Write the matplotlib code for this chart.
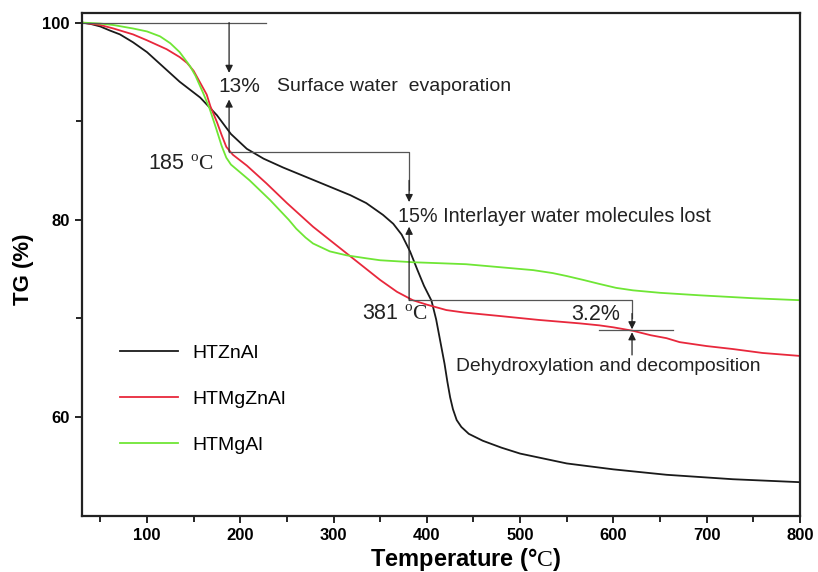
import numpy as np
import matplotlib
matplotlib.use("Agg")
import matplotlib.pyplot as plt

plt.rcParams['font.family'] = ['Liberation Sans', 'DejaVu Sans']
plt.rcParams['mathtext.fontset'] = 'custom'
plt.rcParams['mathtext.rm'] = 'Liberation Serif'

# curves (temperature in degC, TG in %)
zn_temp = [30, 40, 50, 60, 71, 85, 100, 121, 135, 157, 175, 190, 207, 225, 246, 264, 282,
           300, 318, 335, 353, 364, 373, 382, 390, 397, 405, 410, 415, 419, 422, 425, 428,
           432, 437, 445, 460, 480, 500, 550, 600, 657, 728, 800]
zn_tg = [100, 99.85, 99.6, 99.2, 98.8, 98.0, 97.0, 95.2, 94.0, 92.4, 90.6, 88.7, 87.2, 86.2,
         85.3, 84.6, 83.9, 83.2, 82.5, 81.7, 80.5, 79.6, 78.5, 76.8, 74.9, 73.3, 71.8, 69.9,
         67.4, 65.4, 63.6, 62.0, 60.8, 59.7, 59.0, 58.3, 57.6, 56.9, 56.3, 55.3, 54.7, 54.15,
         53.7, 53.4]

mgzn_temp = [30, 50, 64, 85, 100, 121, 135, 143, 150, 157, 164, 168, 175, 180, 185, 192, 207,
             228, 250, 278, 314, 350, 368, 385, 400, 421, 440, 478, 520, 564, 585, 600,
             621, 640, 657, 671, 700, 728, 760, 800]
mgzn_tg = [100, 99.75, 99.4, 98.8, 98.2, 97.3, 96.5, 95.9, 95.1, 93.9, 92.7, 91.5, 89.9, 88.6,
           87.4, 86.6, 85.5, 83.7, 81.7, 79.3, 76.6, 73.9, 72.7, 71.85, 71.4, 70.85, 70.6,
           70.25, 69.85, 69.5, 69.3, 69.1, 68.75, 68.3, 68.0, 67.6, 67.2, 66.9, 66.5, 66.2]

mgal_temp = [30, 50, 64, 85, 100, 114, 125, 135, 146, 152, 160, 167, 174, 180, 185, 190, 200,
             210, 221, 232, 242, 252, 260, 270, 278, 296, 314, 335, 350, 385, 414, 442, 478,
             514, 535, 550, 568, 585, 603, 621, 650, 692, 750, 800]
mgal_tg = [100, 99.9, 99.75, 99.4, 99.1, 98.6, 97.9, 97.0, 95.6, 94.6, 92.9, 91.3, 89.3, 87.5,
           86.3, 85.6, 84.8, 84.0, 83.0, 82.0, 81.0, 80.0, 79.1, 78.2, 77.6, 76.8, 76.4, 76.1,
           75.9, 75.7, 75.6, 75.5, 75.2, 74.9, 74.6, 74.3, 73.9, 73.5, 73.1, 72.85, 72.6,
           72.35, 72.05, 71.85]

series_names = ['HTZnAl', 'HTMgZnAl', 'HTMgAl']
series_colors = ['#1a1a1a', '#e8283c', '#6fe635']

fig = plt.figure(figsize=(8.18, 5.72), dpi=100)
ax = fig.add_axes([0.0999, 0.0984, 0.878, 0.8794])

for t, tg, name, c in zip([zn_temp, mgzn_temp, mgal_temp], [zn_tg, mgzn_tg, mgal_tg],
                          series_names, series_colors):
    ax.plot(t, tg, color=c, lw=1.3, label=name, solid_joinstyle='round')

ax.set_xlim(30, 800)
ax.set_ylim(50, 101)
ax.set_xticks([100, 200, 300, 400, 500, 600, 700, 800])
ax.set_xticks([50, 150, 250, 350, 450, 550, 650, 750], minor=True)
ax.set_yticks([60, 80, 100])
ax.set_yticks([70, 90], minor=True)
ax.tick_params(which='both', direction='out', width=1.2, labelsize=12, top=False, right=False)
ax.tick_params(which='major', length=5)
ax.tick_params(which='minor', length=4)
for lab in ax.get_xticklabels() + ax.get_yticklabels():
    lab.set_fontweight('bold')
for s in ax.spines.values():
    s.set_linewidth(1.6)
    s.set_color('#222222')

ax.set_xlabel(r'Temperature (°$\mathrm{C}$)', fontsize=17, fontweight='bold')
ax.xaxis.set_label_coords(0.535, -0.06)
ax.set_ylabel('TG (%)', fontsize=16, fontweight='bold')
ax.yaxis.set_label_coords(-0.066, 0.49)

# step annotations
gray = '#555555'
arrow = dict(arrowstyle='-|>', color='#222222', lw=0.9, mutation_scale=11, shrinkA=0, shrinkB=0)

ax.plot([30, 228], [100, 100], color=gray, lw=0.9)
ax.annotate('', xy=(188, 94.9), xytext=(188, 100), arrowprops=arrow)
ax.annotate('', xy=(188, 92.2), xytext=(188, 86.9), arrowprops=arrow)
ax.plot([188, 381, 381], [86.9, 86.9, 83], color=gray, lw=0.9)
ax.annotate('', xy=(381, 81.8), xytext=(381, 84), arrowprops=arrow)
ax.annotate('', xy=(381, 79.3), xytext=(381, 71.85), arrowprops=arrow)
ax.plot([381, 620, 620], [71.85, 71.85, 70], color=gray, lw=0.9)
ax.annotate('', xy=(620, 68.9), xytext=(620, 70.5), arrowprops=arrow)
ax.plot([585, 664], [68.8, 68.8], color=gray, lw=0.9)
ax.annotate('', xy=(620, 68.6), xytext=(620, 66.3), arrowprops=arrow)

txt = '#222222'
ax.text(176, 93.5, '13%', fontsize=15, color=txt, va='center')
ax.text(239, 93.5, 'Surface water  evaporation', fontsize=14, color=txt, va='center')
ax.text(101, 85.6, r'185 $^{\mathrm{o}}\mathrm{C}$', fontsize=15.5, color=txt, va='center')
ax.text(369, 80.3, '15% Interlayer water molecules lost', fontsize=14.2, color=txt, va='center')
ax.text(330, 70.4, r'381 $^{\mathrm{o}}\mathrm{C}$', fontsize=15.5, color=txt, va='center')
ax.text(555, 70.4, '3.2%', fontsize=15.5, color=txt, va='center')
ax.text(431, 65.1, 'Dehydroxylation and decomposition', fontsize=13.9, color=txt, va='center')

ax.legend(loc='upper left', bbox_to_anchor=(0.053, 0.34), frameon=False, fontsize=14,
          handlelength=3.0, handletextpad=0.75, labelspacing=1.45, borderpad=0, borderaxespad=0)

fig.savefig('out.png', dpi=100)
